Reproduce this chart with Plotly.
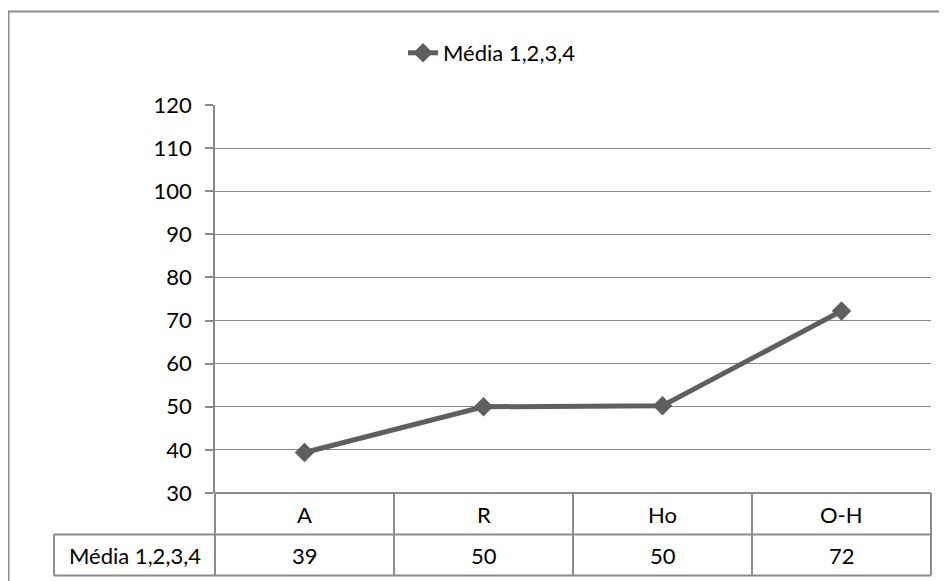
import plotly.graph_objects as go

categories = ["A", "R", "Ho", "O-H"]
series_name = "Média 1,2,3,4"
values = [39.4, 50.0, 50.25, 72.2]
table_labels = ["39", "50", "50", "72"]
y_ticks = [30, 40, 50, 60, 70, 80, 90, 100, 110, 120]

FONT = "Lato"
FS = 22
GRID = "#888888"
LINE = "#5f5f5f"
BORDER = "#8c8c8c"

OFF = 8  # page body margin offset
W, H = 947 - OFF, 581 - OFF
# plot area in screenshot pixels: x 215..931, y 105..493
L = 215 - OFF
T = 105 - OFF
R = W - (931 - OFF)
B = H - (493 - OFF)
PW, PH = W - L - R, H - T - B


def px_x(p):
    return (p - OFF - L) / PW


def px_y(p):
    return (H - B - (p - OFF)) / PH


fig = go.Figure()
fig.add_trace(go.Scatter(
    x=categories, y=values, name=series_name, mode="lines+markers",
    line=dict(color=LINE, width=5),
    marker=dict(symbol="diamond", size=15, color=LINE, line=dict(width=0)),
))

shapes = []
# outer chart border
shapes.append(dict(type="rect", xref="paper", yref="paper",
                   x0=px_x(8.5), x1=px_x(980), y0=px_y(620), y1=px_y(11.5),
                   line=dict(color=BORDER, width=2), layer="below"))
# table horizontal lines
y_row1_top = 0
y_row_mid = px_y(534.5)
y_row_bot = px_y(575.5)
shapes.append(dict(type="line", xref="paper", yref="paper", x0=0, x1=1,
                   y0=y_row1_top, y1=y_row1_top, line=dict(color=BORDER, width=2)))
shapes.append(dict(type="line", xref="paper", yref="paper", x0=px_x(54), x1=1,
                   y0=y_row_mid, y1=y_row_mid, line=dict(color=BORDER, width=2)))
shapes.append(dict(type="line", xref="paper", yref="paper", x0=px_x(54), x1=1,
                   y0=y_row_bot, y1=y_row_bot, line=dict(color=BORDER, width=2)))
# table vertical lines
for xp in [px_x(54), 0, 1]:
    y_top = y_row_mid if xp < 0 else y_row1_top
    shapes.append(dict(type="line", xref="paper", yref="paper", x0=xp, x1=xp,
                       y0=y_row_bot, y1=y_top, line=dict(color=BORDER, width=2)))
for i in range(len(categories) - 1):
    shapes.append(dict(type="line", xref="x", yref="paper", x0=i + 0.5, x1=i + 0.5,
                       y0=y_row_bot, y1=y_row1_top, line=dict(color=BORDER, width=2)))

annotations = []
for c, lab in zip(categories, table_labels):
    annotations.append(dict(x=c, y=px_y(514), xref="x", yref="paper", text=c,
                            showarrow=False, xanchor="center", yanchor="middle",
                            font=dict(family=FONT, size=FS, color="black")))
    annotations.append(dict(x=c, y=px_y(555.5), xref="x", yref="paper", text=lab,
                            showarrow=False, xanchor="center", yanchor="middle",
                            font=dict(family=FONT, size=FS, color="black")))
annotations.append(dict(x=px_x(134.5), y=px_y(555.5), xref="paper", yref="paper",
                        text=series_name, showarrow=False, xanchor="center", yanchor="middle",
                        font=dict(family=FONT, size=FS, color="black")))

fig.update_layout(
    width=W, height=H,
    margin=dict(l=L, r=R, t=T, b=B),
    paper_bgcolor="white", plot_bgcolor="white",
    font=dict(family=FONT, size=FS, color="black"),
    showlegend=True,
    legend=dict(orientation="h", x=px_x(395 + OFF), y=px_y(53), xanchor="left", yanchor="middle",
                font=dict(family=FONT, size=FS, color="black"), bgcolor="rgba(0,0,0,0)"),
    xaxis=dict(type="category", range=[-0.5, 3.5], showticklabels=False, ticks="",
               showgrid=False, showline=False, zeroline=False, fixedrange=True),
    yaxis=dict(range=[30, 120], tickvals=y_ticks, ticks="outside", ticklen=8,
               tickcolor=GRID, tickwidth=1.5, showgrid=True, gridcolor=GRID, gridwidth=1.3,
               showline=True, linecolor=GRID, linewidth=1.5, zeroline=False,
               ticklabelstandoff=9,
               tickfont=dict(family=FONT, size=FS, color="black")),
    shapes=shapes, annotations=annotations,
)

fig.write_html("out.html")
